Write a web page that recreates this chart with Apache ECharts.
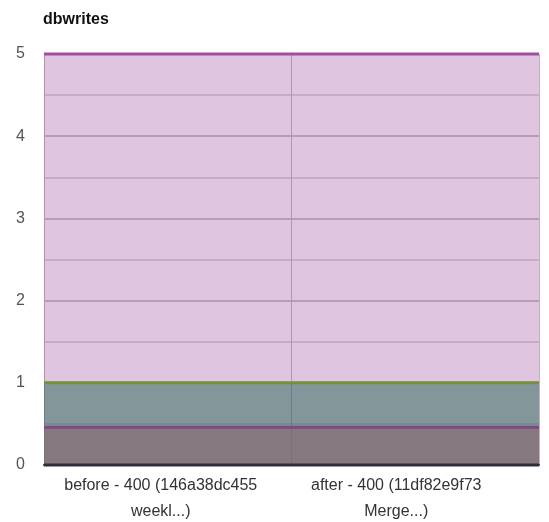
<!DOCTYPE html>
<html>
<head>
<meta charset="utf-8">
<script src="https://cdn.jsdelivr.net/npm/echarts@6/dist/echarts.min.js"></script>
<style>
  html, body { margin: 0; padding: 0; background: #fff; }
  #chart { width: 549px; height: 522px; }
</style>
</head>
<body>
<div id="chart"></div>
<script>
const categories = ["before - 400 (146a38dc455\nweekl...)", "after - 400 (11df82e9f73\nMerge...)"];
const topValues = [5, 5];
const midValues = [1, 1];
const lowValues = [0.46, 0.46];
const baseValues = [0, 0];
const yTicks = [0, 1, 2, 3, 4, 5];

const chart = echarts.init(document.getElementById("chart"));

function layer(name, data, lineColor, fillColor) {
  return {
    name: name,
    type: "line",
    xAxisIndex: 1,
    data: data,
    symbol: "none",
    clip: false,
    lineStyle: { color: lineColor, width: 3 },
    areaStyle: fillColor ? { color: fillColor, opacity: 1 } : undefined,
  };
}

chart.setOption({
  animation: false,
  textStyle: { fontFamily: "Liberation Sans, Arial, sans-serif" },
  title: {
    text: "dbwrites",
    left: 38,
    top: 7,
    textStyle: { fontSize: 16, fontWeight: "bold", color: "#111" },
  },
  grid: { left: 44, right: 10, top: 54, bottom: 57, outerBoundsMode: "none" },
  xAxis: [
    {
      type: "category",
      data: categories,
      boundaryGap: true,
      axisLine: { show: true, lineStyle: { color: "#333", width: 2 } },
      axisTick: { show: false },
      axisLabel: {
        color: "#333",
        fontSize: 16,
        lineHeight: 26,
        margin: 8,
        interval: 0,
        // labels sit a little left of the category centres in the original
        formatter: (v, i) => "{c" + i + "|" + v + "}",
        rich: {
          c0: { fontSize: 16, lineHeight: 26, color: "#333", padding: [0, 14, 0, 0] },
          c1: { fontSize: 16, lineHeight: 26, color: "#333", padding: [0, 38, 0, 0] },
        },
      },
      splitLine: {
        show: true,
        interval: 0,
        lineStyle: { color: "#c4b0c4", width: 1 },
      },
    },
    {
      type: "category",
      data: categories,
      boundaryGap: false,
      show: false,
    },
  ],
  yAxis: {
    type: "value",
    min: yTicks[0],
    max: yTicks[yTicks.length - 1],
    interval: 1,
    axisLine: { show: false },
    axisTick: { show: false },
    axisLabel: { color: "#555", fontSize: 16, margin: 19 },
    splitLine: { show: true, lineStyle: { color: "#c2c2c2", width: 2 } },
    minorTick: { show: false, splitNumber: 2 },
    minorSplitLine: { show: true, lineStyle: { color: "#dadada", width: 2 } },
  },
  series: [
    layer("top", topValues, "#a04fa0", "rgba(160,80,160,0.33)"),
    layer("mid", midValues, "#72923a", "rgba(39,103,85,0.5)"),
    layer("low", lowValues, "#7d4a87", "rgba(135,94,102,0.5)"),
    layer("base", baseValues, "#2e2e3a", null),
  ],
});
</script>
</body>
</html>
